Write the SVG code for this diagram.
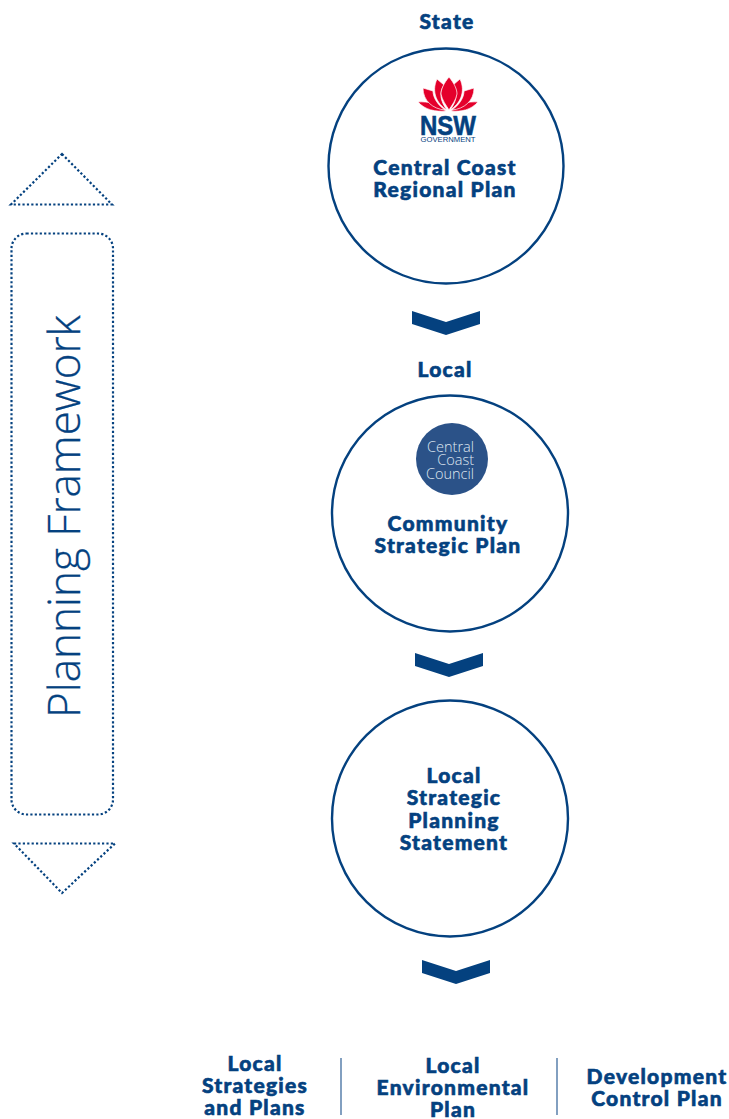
<svg xmlns="http://www.w3.org/2000/svg" width="729" height="1119" viewBox="0 0 729 1119">
<style>
.t{font-family:"Lato","Liberation Sans",sans-serif;font-weight:900;font-size:21px;fill:#04417f;text-anchor:middle;letter-spacing:1.25px;stroke:#04417f;stroke-width:.6px}
.c{fill:#fff;stroke:#04417f;stroke-width:2.4}
.d{fill:none;stroke:#04417f;stroke-width:2.2;stroke-dasharray:2.2 2.2}
.ch{fill:#04417f}
.dv{stroke:#3f6c9e;stroke-width:1.3}
.p{fill:#e4002b;stroke:#fff;stroke-width:.7}
</style>
<g id="framework">
<path class="d" d="M62 154L112 204.500H11Z"/>
<rect class="d" x="11.500" y="233.500" width="101.500" height="581" rx="15"/>
<path class="d" d="M14 843.500H115L62 893Z"/>
<text transform="translate(80 516.500) rotate(-90)" font-family="'Open Sans','Liberation Sans',sans-serif" font-weight="300" font-size="44" fill="#04417f" stroke="#04417f" stroke-width=".3" text-anchor="middle">Planning Framework</text>
</g>
<g id="connectors">
<path class="ch" d="M412 311L446 322L480 311V324L446 335L412 324Z"/>
<path class="ch" d="M415 653L449 664L483 653V666L449 677L415 666Z"/>
<path class="ch" d="M422 960L456 971L490 960V973L456 984L422 973Z"/>
<line class="dv" x1="341" y1="1058" x2="341" y2="1115"/>
<line class="dv" x1="557" y1="1058" x2="557" y2="1115"/>
</g>
<g id="state-label"><text class="t" x="447" y="29">State</text></g>
<g id="node-regional">
<circle class="c" cx="446" cy="166" r="117.500"/>
<g id="nsw-logo">
<path class="p" d="M418 102C428 101 438 104 446 111C436 112 425 110 418 102Z"/>
<path class="p" d="M478 102C468 101 458 104 451 111C461 112 471 110 478 102Z"/>
<path class="p" d="M423 88L433 91C433 98 438 105 445 110C433 109 423 101 423 88Z"/>
<path class="p" d="M474 88L464 91C464 98 459 105 452 110C464 109 474 101 474 88Z"/>
<path class="p" d="M437 79L444 85C439 92 440 101 447 110C437 104 431 92 437 79Z"/>
<path class="p" d="M460 79L453 85C458 92 457 101 450 110C460 104 466 92 460 79Z"/>
<path class="p" d="M449 77C454 83 457 89 457 94C456 100 452 105 449 110C446 105 442 100 441 94C441 89 444 83 449 77Z"/>
<text x="448" y="135" font-family="'Liberation Sans',sans-serif" font-weight="700" font-size="28" fill="#04417f" stroke="#04417f" stroke-width=".6" text-anchor="middle" textLength="56" lengthAdjust="spacingAndGlyphs">NSW</text>
<text x="448" y="142" font-family="'Liberation Sans',sans-serif" font-size="7" fill="#04417f" text-anchor="middle" textLength="55" lengthAdjust="spacingAndGlyphs">GOVERNMENT</text>
</g>
<text class="t" x="445" y="175">Central Coast</text>
<text class="t" x="445" y="197">Regional Plan</text>
</g>
<g id="local-label"><text class="t" x="445" y="377">Local</text></g>
<g id="node-community">
<circle class="c" cx="450" cy="513.500" r="118"/>
<g id="ccc-logo">
<circle cx="452" cy="459" r="36" fill="#2b5288"/>
<text font-family="'Open Sans','Liberation Sans',sans-serif" font-weight="300" font-size="14.500" fill="#dfe6f0" text-anchor="end"><tspan x="474" y="451.500">Central</tspan><tspan x="474" y="465">Coast</tspan><tspan x="474" y="478.500">Council</tspan></text>
</g>
<text class="t" x="448" y="531">Community</text>
<text class="t" x="448" y="553">Strategic Plan</text>
</g>
<g id="node-statement">
<circle class="c" cx="450" cy="818.500" r="118"/>
<text class="t" x="454" y="783">Local</text>
<text class="t" x="454" y="805">Strategic</text>
<text class="t" x="454" y="828">Planning</text>
<text class="t" x="454" y="850">Statement</text>
</g>
<g id="node-strategies">
<text class="t" x="255" y="1071">Local</text>
<text class="t" x="255" y="1093">Strategies</text>
<text class="t" x="255" y="1115">and Plans</text>
</g>
<g id="node-lep">
<text class="t" x="453" y="1073">Local</text>
<text class="t" x="453" y="1095">Environmental</text>
<text class="t" x="453" y="1117">Plan</text>
</g>
<g id="node-dcp">
<text class="t" x="657" y="1084">Development</text>
<text class="t" x="657" y="1106">Control Plan</text>
</g>
</svg>
